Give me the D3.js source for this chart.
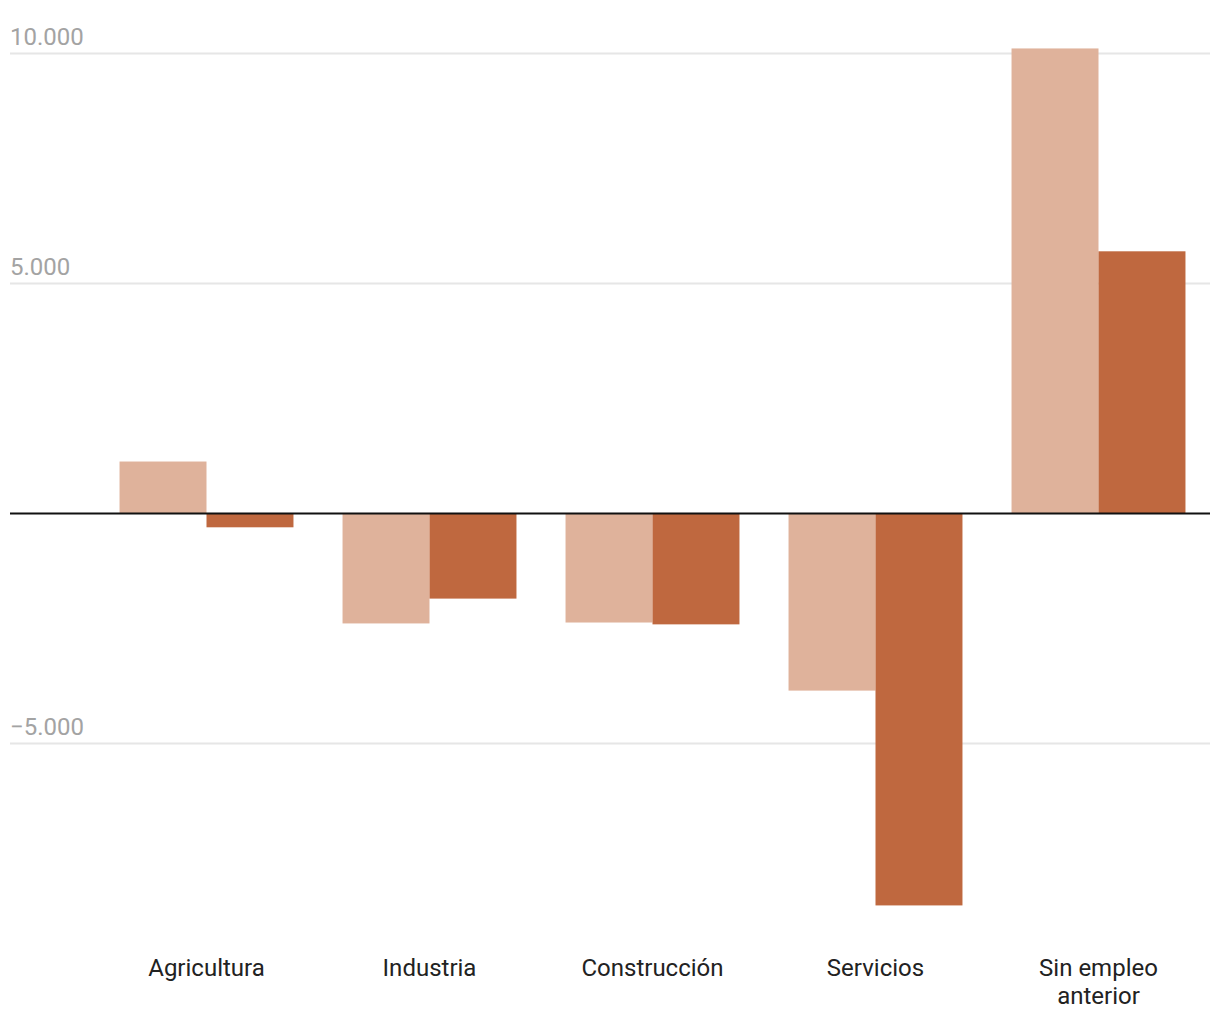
<!DOCTYPE html>
<html>
<head>
<meta charset="utf-8">
<script src="https://cdn.jsdelivr.net/npm/d3@7"></script>
<style>
  html, body { margin: 0; padding: 0; background: #fff; }
  svg { display: block; font-family: Roboto, sans-serif; }
</style>
</head>
<body>
<svg id="chart" width="1220" height="1020"></svg>
<script>
const categories = ["Agricultura", "Industria", "Construcción", "Servicios", "Sin empleo anterior"];
const seriesA = [1130, -2390, -2370, -3850, 10110];
const seriesB = [-300, -1850, -2410, -8520, 5700];
const yTicks = [-5000, 5000, 10000];
const colors = ["#dfb29b", "#bf683f"];

const svg = d3.select("#chart");

const y = d3.scaleLinear().domain([0, 10000]).range([513.5, 53.5]);
const x = d3.scaleBand().domain(categories).range([95, 1210]).paddingInner(0.22).paddingOuter(0.11);
const x1 = d3.scaleBand().domain([0, 1]).range([0, x.bandwidth()]);

const fmt = v => d3.format(",")(v).replace(/,/g, ".").replace("-", "\u2212");

// gridlines
const grid = svg.append("g");
grid.selectAll("line").data(yTicks).join("line")
  .attr("x1", 10).attr("x2", 1210)
  .attr("y1", d => y(d)).attr("y2", d => y(d))
  .attr("stroke", "#e6e6e6").attr("stroke-width", 2);
grid.selectAll("text").data(yTicks).join("text")
  .attr("x", 10).attr("y", d => y(d) - 9)
  .attr("fill", "#a3a3a3").attr("font-size", 24)
  .text(fmt);

// bars
const groups = svg.append("g").selectAll("g").data(categories).join("g")
  .attr("transform", d => `translate(${x(d)},0)`);
groups.selectAll("rect").data((d, i) => [seriesA[i], seriesB[i]]).join("rect")
  .attr("x", (d, j) => x1(j))
  .attr("width", x1.bandwidth())
  .attr("y", d => Math.min(y(d), y(0)))
  .attr("height", d => Math.abs(y(d) - y(0)))
  .attr("fill", (d, j) => colors[j]);

// zero line
svg.append("line").attr("x1", 10).attr("x2", 1210)
  .attr("y1", y(0)).attr("y2", y(0))
  .attr("stroke", "#111").attr("stroke-width", 2);

// category labels
const labels = svg.append("g").selectAll("text").data(categories).join("text")
  .attr("text-anchor", "middle")
  .attr("x", d => x(d) + x.bandwidth() / 2)
  .attr("y", 976)
  .attr("fill", "#222").attr("font-size", 24);
labels.each(function(d) {
  const t = d3.select(this);
  const parts = d === "Sin empleo anterior" ? ["Sin empleo", "anterior"] : [d];
  parts.forEach((p, i) => {
    t.append("tspan").attr("x", x(d) + x.bandwidth() / 2).attr("dy", i === 0 ? 0 : 28).text(p);
  });
});
</script>
</body>
</html>
